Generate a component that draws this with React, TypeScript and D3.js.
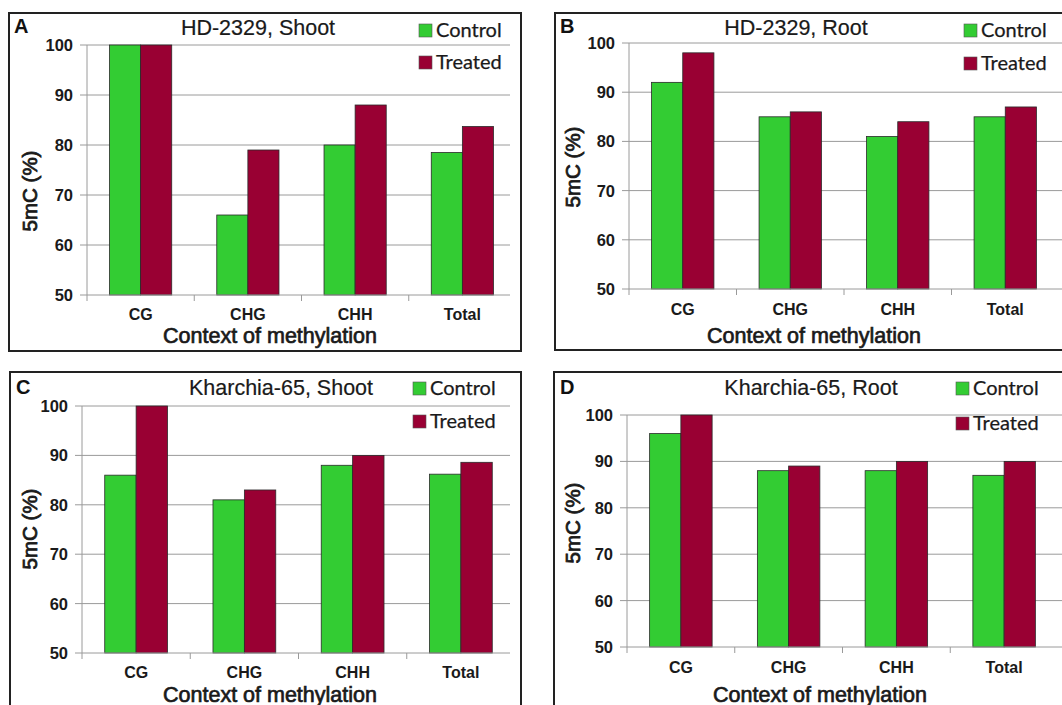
import React from "react";
import * as d3 from "d3";

// Methylation contexts on the x axis
const categories = ["CG", "CHG", "CHH", "Total"];
const seriesNames = ["Control", "Treated"];
const yTicks = [50, 60, 70, 80, 90, 100];

// 5mC (%) per context
const hdShootControl = [100, 66, 80, 78.5];
const hdShootTreated = [100, 79, 88, 83.7];
const hdRootControl = [92, 85, 81, 85];
const hdRootTreated = [98, 86, 84, 87];
const khShootControl = [86, 81, 88, 86.2];
const khShootTreated = [100, 83, 90, 88.6];
const khRootControl = [96, 88, 88, 87];
const khRootTreated = [100, 89, 90, 90];

const COLORS = { Control: "#33cc33", Treated: "#990033" };
const ARIAL = "'Liberation Sans', Arial, sans-serif";
const LEGEND_FONT = "Lato, 'Liberation Sans', sans-serif";

type Panel = {
  letter: string;
  title: string;
  control: number[];
  treated: number[];
  box: [number, number, number, number]; // x0, y0, x1, y1
  axisX: number;
  bandEnd: number;
  gridEnd: number;
  yTop: number;
  yBottom: number;
  titleX: number;
  titleY: number;
  legendX: number;
  legendY: [number, number];
  yLabelX: number;
  yLabelY: number;
  catY: number;
  xTitleX: number;
  xTitleY: number;
  letterX: number;
  letterY: number;
};

const panels: Panel[] = [
  {
    letter: "A", title: "HD-2329, Shoot", control: hdShootControl, treated: hdShootTreated,
    box: [9, 13, 521, 351], axisX: 87, bandEnd: 516, gridEnd: 510, yTop: 45, yBottom: 295,
    titleX: 258, titleY: 35, legendX: 419, legendY: [37, 69], yLabelX: 30, yLabelY: 191,
    catY: 320, xTitleX: 270, xTitleY: 343, letterX: 14, letterY: 33,
  },
  {
    letter: "B", title: "HD-2329, Root", control: hdRootControl, treated: hdRootTreated,
    box: [555, 13, 1075, 350], axisX: 629, bandEnd: 1059, gridEnd: 1062, yTop: 43, yBottom: 289,
    titleX: 796, titleY: 35, legendX: 964, legendY: [37, 70], yLabelX: 573, yLabelY: 167,
    catY: 315, xTitleX: 814, xTitleY: 343, letterX: 560, letterY: 33,
  },
  {
    letter: "C", title: "Kharchia-65, Shoot", control: khShootControl, treated: khShootTreated,
    box: [10, 372, 521, 720], axisX: 82, bandEnd: 515, gridEnd: 510, yTop: 406, yBottom: 653,
    titleX: 281, titleY: 395, legendX: 413, legendY: [395, 428], yLabelX: 30, yLabelY: 529,
    catY: 678, xTitleX: 270, xTitleY: 702, letterX: 16, letterY: 394,
  },
  {
    letter: "D", title: "Kharchia-65, Root", control: khRootControl, treated: khRootTreated,
    box: [554, 372, 1075, 720], axisX: 627, bandEnd: 1058, gridEnd: 1062, yTop: 415, yBottom: 647,
    titleX: 811, titleY: 395, legendX: 956, legendY: [395, 430], yLabelX: 573, yLabelY: 523,
    catY: 673, xTitleX: 820, xTitleY: 702, letterX: 560, letterY: 394,
  },
];

function ChartPanel({ p }: { p: Panel }) {
  const x0 = d3.scaleBand<string>().domain(categories).range([p.axisX, p.bandEnd]).padding(0);
  const step = x0.step();
  const groupW = step * 0.58;
  const x1 = d3.scaleBand<string>().domain(seriesNames).range([0, groupW]).padding(0);
  const y = d3.scaleLinear().domain([50, 100]).range([p.yBottom, p.yTop]);
  const values: Record<string, number[]> = { Control: p.control, Treated: p.treated };
  const grid = "#9a9a9a";
  const sq = 13;

  return (
    <g>
      <rect x={p.box[0]} y={p.box[1]} width={p.box[2] - p.box[0]} height={p.box[3] - p.box[1]}
        fill="#fff" stroke="#222" strokeWidth={2} />
      {/* horizontal gridlines */}
      {yTicks.filter((t) => t > 50).map((t) => (
        <line key={t} x1={p.axisX} x2={p.gridEnd} y1={y(t)} y2={y(t)} stroke={grid} strokeWidth={1} />
      ))}
      {/* bars */}
      {categories.map((c, i) => {
        const gx = (x0(c) as number) + (step - groupW) / 2;
        return seriesNames.map((s) => (
          <rect key={c + s} x={gx + (x1(s) as number)} y={y(values[s][i])}
            width={x1.bandwidth()} height={y(50) - y(values[s][i])}
            fill={COLORS[s as keyof typeof COLORS]} stroke="#2a2a2a" strokeWidth={0.8} />
        ));
      })}
      {/* y axis */}
      <line x1={p.axisX} x2={p.axisX} y1={y(100)} y2={y(50)} stroke={grid} strokeWidth={1} />
      {yTicks.map((t) => (
        <g key={t}>
          <line x1={p.axisX - 7} x2={p.axisX} y1={y(t)} y2={y(t)} stroke={grid} strokeWidth={1} />
          <text x={p.axisX - 14} y={y(t)} dy="0.36em" textAnchor="end" fontFamily={ARIAL}
            fontWeight="bold" fontSize={16.5} fill="#1a1a1a">{t}</text>
        </g>
      ))}
      {/* x axis */}
      <line x1={p.axisX} x2={p.gridEnd} y1={y(50)} y2={y(50)} stroke={grid} strokeWidth={1} />
      {categories.map((c) => (
        <line key={"t" + c} x1={x0(c) as number} x2={x0(c) as number} y1={y(50)} y2={y(50) + 6}
          stroke={grid} strokeWidth={1} />
      ))}
      {categories.map((c) => (
        <text key={"l" + c} x={(x0(c) as number) + step / 2} y={p.catY} textAnchor="middle"
          fontFamily={ARIAL} fontWeight="bold" fontSize={16} fill="#1a1a1a">{c}</text>
      ))}
      {/* titles */}
      <text x={p.titleX} y={p.titleY} textAnchor="middle" fontFamily={ARIAL} fontSize={21.5} fill="#1a1a1a"
        stroke="#1a1a1a" strokeWidth={0.2}>
        {p.title}
      </text>
      <text x={p.letterX} y={p.letterY} fontFamily={ARIAL} fontWeight="bold" fontSize={20} fill="#111">
        {p.letter}
      </text>
      <text x={p.xTitleX} y={p.xTitleY} textAnchor="middle" fontFamily={ARIAL} fontSize={21.5}
        fill="#1a1a1a" stroke="#1a1a1a" strokeWidth={0.7}>Context of methylation</text>
      <text transform={`translate(${p.yLabelX},${p.yLabelY}) rotate(-90)`} textAnchor="middle"
        dy="0.35em" fontFamily={ARIAL} fontSize={20.5} fill="#1a1a1a" stroke="#1a1a1a" strokeWidth={0.8}>
        5mC (%)
      </text>
      {/* legend */}
      {seriesNames.map((s, i) => (
        <g key={"lg" + s}>
          <rect x={p.legendX} y={p.legendY[i] - sq} width={sq} height={sq}
            fill={COLORS[s as keyof typeof COLORS]} stroke="#555" strokeWidth={0.6} />
          <text x={p.legendX + sq + 4} y={p.legendY[i]} fontFamily={LEGEND_FONT} fontSize={20}
            fill="#1a1a1a" stroke="#1a1a1a" strokeWidth={0.25}>{s}</text>
        </g>
      ))}
    </g>
  );
}

export default function App() {
  return (
    <svg width={1062} height={705} style={{ position: "absolute", left: 0, top: 0, background: "#fff" }}>
      <rect x={0} y={0} width={1062} height={705} fill="#fff" />
      {panels.map((p) => (
        <ChartPanel key={p.letter} p={p} />
      ))}
    </svg>
  );
}
